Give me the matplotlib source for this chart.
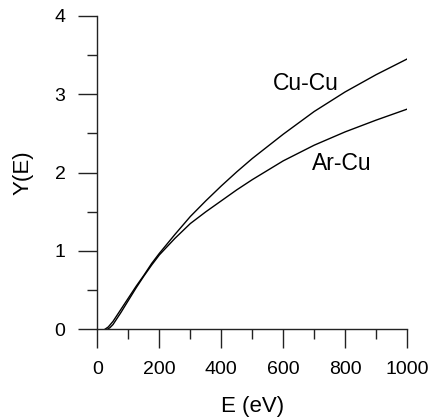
import matplotlib
matplotlib.use("Agg")
import matplotlib.pyplot as plt
from matplotlib.ticker import MultipleLocator

# energies (eV) and yields
e_cucu = [24, 35, 50, 75, 100, 125, 150, 175, 200, 250, 300, 350, 400,
          450, 500, 600, 700, 800, 900, 1000]
y_cucu = [0.0, 0.03, 0.10, 0.25, 0.40, 0.55, 0.69, 0.84, 0.97, 1.21, 1.44,
          1.64, 1.83, 2.01, 2.18, 2.49, 2.78, 3.03, 3.25, 3.45]

e_arcu = [32, 40, 50, 75, 100, 125, 150, 175, 200, 250, 300, 350, 400,
          450, 500, 600, 700, 800, 900, 1000]
y_arcu = [0.0, 0.02, 0.06, 0.21, 0.37, 0.53, 0.68, 0.82, 0.95, 1.16, 1.35,
          1.50, 1.64, 1.78, 1.91, 2.15, 2.35, 2.52, 2.67, 2.81]

plt.rcParams['font.family'] = ['Liberation Sans', 'DejaVu Sans']

fig = plt.figure(figsize=(4.36, 4.20), dpi=100)
ax = fig.add_axes([0.2236, 0.216, 0.7099, 0.746])

ax.plot(e_cucu, y_cucu, color="black", lw=1.0)
ax.plot(e_arcu, y_arcu, color="black", lw=1.0)

ax.text(673, 3.14, "Cu-Cu", fontsize=16.5, ha="center", va="center")
ax.text(789, 2.12, "Ar-Cu", fontsize=16.5, ha="center", va="center")

ax.set_xlim(0, 1000)
ax.set_ylim(0, 4)
ax.spines['top'].set_visible(False)
ax.spines['right'].set_visible(False)
for s in ['left', 'bottom']:
    ax.spines[s].set_linewidth(1.0)
    ax.spines[s].set_color("#222222")

ax.xaxis.set_major_locator(MultipleLocator(200))
ax.xaxis.set_minor_locator(MultipleLocator(100))
ax.yaxis.set_major_locator(MultipleLocator(1))
ax.yaxis.set_minor_locator(MultipleLocator(0.5))
ax.tick_params(which="major", direction="out", length=14, width=1.0,
               labelsize=14, pad=9, color="#222222")
ax.tick_params(which="minor", direction="out", length=7, width=1.0,
               color="#222222")

ax.set_xlabel("E (eV)", fontsize=16, labelpad=13)
ax.set_ylabel("Y(E)", fontsize=16, labelpad=15)

fig.savefig("out.png", dpi=100)
